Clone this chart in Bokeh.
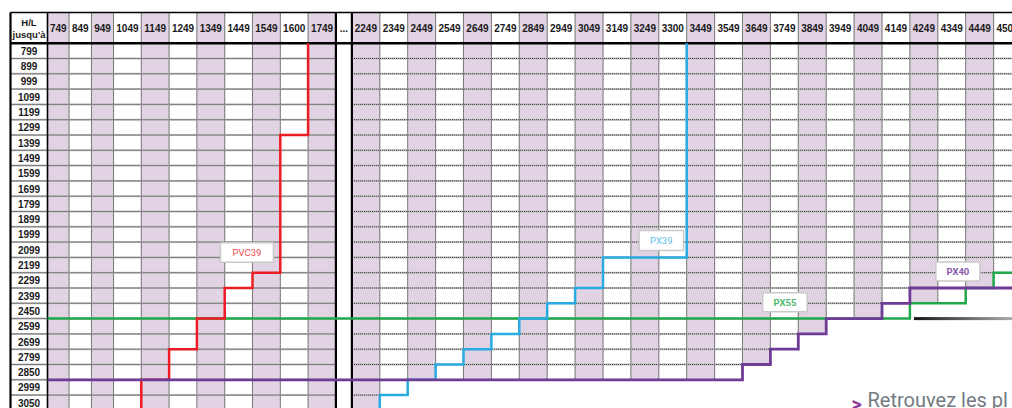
import numpy as np
from bokeh.plotting import figure
from bokeh.models import Range1d
from bokeh.core.properties import value
from bokeh.embed import file_html
from bokeh.resources import INLINE

# ---------------------------------------------------------------- data
widths_left = ["749", "849", "949", "1049", "1149", "1249", "1349", "1449", "1549", "1600", "1749"]
widths_gap = ["..."]
widths_right = ["2249", "2349", "2449", "2549", "2649", "2749", "2849", "2949", "3049", "3149",
                "3249", "3300", "3449", "3549", "3649", "3749", "3849", "3949", "4049", "4149",
                "4249", "4349", "4449", "4500"]
heights = ["799", "899", "999", "1099", "1199", "1299", "1399", "1499", "1599", "1699", "1799",
           "1899", "1999", "2099", "2199", "2299", "2399", "2450", "2599", "2699", "2799", "2850",
           "2999", "3050"]

# max height ("jusqu'à") per width for each profile; None = beyond the last row shown
pvc39_widths = ["1049", "1149", "1249", "1349", "1449", "1549", "1600"]
pvc39_max = [None, "2850", "2699", "2450", "2299", "2199", "1299"]

px39_widths = ["2249", "2349", "2449", "2549", "2649", "2749", "2849", "2949", "3049", "3149",
               "3249", "3300"]
px39_max = [None, "2999", "2850", "2799", "2699", "2599", "2450", "2399", "2299", "2099",
            "2099", "2099"]

px55_widths = ["749", "849", "949", "1049", "1149", "1249", "1349", "1449", "1549", "1600", "1749",
               "...",
               "2249", "2349", "2449", "2549", "2649", "2749", "2849", "2949", "3049", "3149",
               "3249", "3300", "3449", "3549", "3649", "3749", "3849", "3949", "4049", "4149",
               "4249", "4349", "4449", "4500"]
px55_max = ["2450", "2450", "2450", "2450", "2450", "2450", "2450", "2450", "2450", "2450", "2450",
            "2450",
            "2450", "2450", "2450", "2450", "2450", "2450", "2450", "2450", "2450", "2450",
            "2450", "2450", "2450", "2450", "2450", "2450", "2450", "2450", "2450", "2450",
            "2399", "2399", "2299", "2199"]

px40_widths = list(px55_widths)
px40_max = ["2850", "2850", "2850", "2850", "2850", "2850", "2850", "2850", "2850", "2850", "2850",
            "2850",
            "2850", "2850", "2850", "2850", "2850", "2850", "2850", "2850", "2850", "2850",
            "2850", "2850", "2850", "2850", "2799", "2699", "2599", "2450", "2450", "2399",
            "2299", "2299", "2299", "2299"]

# ---------------------------------------------------------------- layout / style
FIG_W, FIG_H = 1012, 408
PAGE_OFF = 0
TABLE_X0 = 10.0
LABEL_COL_W = 37.0
SPECIAL_W = {"749": 21.5, "849": 22.5, "949": 22.0, "...": 16.0}
LEFT_W, RIGHT_W = 27.8, 27.9
HEADER_BOTTOM_PX = 42.7
ROW_PX = 15.3
CUT_FROM = "2349"          # right block is cut below the PX40/PX55 outline from this width on

SHADE = "#e2d3e4"
RED, BLUE, GREEN, PURPLE = "#ed1c24", "#29abe2", "#22a84c", "#6e3b96"
TXT = "#1a1a1a"

cols = widths_left + widths_gap + widths_right
edges = [TABLE_X0 + LABEL_COL_W]
for c in cols:
    w = SPECIAL_W.get(c, LEFT_W if c in widths_left else RIGHT_W)
    edges.append(edges[-1] + w)
left = {c: edges[i] for i, c in enumerate(cols)}
right = {c: edges[i + 1] for i, c in enumerate(cols)}
center = {c: (left[c] + right[c]) / 2 for c in cols}

BEYOND = len(heights) + 3


def k_of(h):
    return BEYOND if h is None else heights.index(h) + 1


px40_map = dict(zip(px40_widths, px40_max))
px55_map = dict(zip(px55_widths, px55_max))
cut_idx = widths_right.index(CUT_FROM)
mask_k = {}
for c in cols:
    if c in widths_right and widths_right.index(c) >= cut_idx:
        mask_k[c] = max(k_of(px40_map[c]), k_of(px55_map[c]))
    else:
        mask_k[c] = BEYOND

y_top = (PAGE_OFF - HEADER_BOTTOM_PX) / ROW_PX
y_bot = (PAGE_OFF + FIG_H - HEADER_BOTTOM_PX) / ROW_PX

p = figure(width=FIG_W, height=FIG_H, output_backend="svg", toolbar_location=None,
           x_range=Range1d(PAGE_OFF, PAGE_OFF + FIG_W), y_range=Range1d(y_bot, y_top),
           x_axis_location=None, y_axis_location=None, min_border=0)
p.grid.grid_line_color = None
p.outline_line_color = None
p.background_fill_color = "white"
p.border_fill_color = "white"

# ---- shaded columns
ql, qr, qt, qb = [], [], [], []
for block in (widths_left, widths_right):
    for i, c in enumerate(block):
        if i % 2 == 0:
            ql.append(left[c]); qr.append(right[c]); qt.append(-2.0); qb.append(float(mask_k[c]))
p.quad(left=ql, right=qr, top=qt, bottom=qb, fill_color=SHADE, line_color=None)

# ---- horizontal row separators
hx0, hx1, hy = [], [], []
for k in range(1, len(heights) + 1):
    run_s, run_e = TABLE_X0, left[cols[0]]
    for c in cols:
        vis = (c != "...") and k < mask_k[c]
        if vis:
            if run_s is None:
                run_s = left[c]
            run_e = right[c]
        else:
            if run_s is not None:
                hx0.append(run_s); hx1.append(run_e); hy.append(k)
                run_s = None
    if run_s is not None:
        hx0.append(run_s); hx1.append(run_e); hy.append(k)
p.segment(x0=hx0, y0=hy, x1=hx1, y1=hy, line_color="#c2c2c2", line_width=2)
p.segment(x0=hx0, y0=hy, x1=hx1, y1=hy, line_color="#333333", line_width=1, line_dash="1 1")

# ---- vertical column separators
vx, vy0, vy1 = [], [], []
for block in (widths_left, widths_right):
    for a, b in zip(block[:-1], block[1:]):
        vx.append(right[a]); vy0.append(-2.0); vy1.append(float(max(mask_k[a], mask_k[b])))
p.segment(x0=vx, y0=vy0, x1=vx, y1=vy1, line_color="#cfcfcf", line_width=1.2)
p.segment(x0=vx, y0=vy0, x1=vx, y1=vy1, line_color="#2a2a2a", line_width=1, line_dash="1 1")

# ---- heavy borders
far_right = right[cols[-1]] + 20
p.segment(x0=[TABLE_X0, TABLE_X0], y0=[-2.0, 0.0], x1=[far_right, far_right], y1=[-2.0, 0.0],
          line_color="black", line_width=[1.5, 2.4])
bx = [TABLE_X0, left[cols[0]], left["..."], right["..."]]
p.segment(x0=bx, y0=[-2.0] * 4, x1=bx, y1=[float(BEYOND)] * 4, line_color="black",
          line_width=[2.2, 1.6, 2.2, 2.2])


# ---- profile outlines
def step_path(ws, hs, close_top):
    xs, ys = [], []
    for w, h in zip(ws, hs):
        k = k_of(h)
        xs += [left[w], right[w]]
        ys += [k, k]
    if close_top:
        xs.append(right[ws[-1]]); ys.append(0)
    return xs, ys


gx, gy = step_path(px55_widths, px55_max, False)
p.line(gx, gy, line_color=GREEN, line_width=2.5, line_join="miter")
rx, ry = step_path(pvc39_widths, pvc39_max, True)
p.line(rx, ry, line_color=RED, line_width=2.5, line_join="miter")
bxs, bys = step_path(px39_widths, px39_max, True)
p.line(bxs, bys, line_color=BLUE, line_width=2.5, line_join="miter")
px, py = step_path(px40_widths, px40_max, False)
p.line(px, py, line_color=PURPLE, line_width=2.8, line_join="miter")

# ---- header & row labels
p.text(x=[center[c] for c in cols], y=[-1.0] * len(cols), text=cols,
       text_font=value("Liberation Sans"), text_font_size="10px", text_font_style="bold",
       text_color=TXT, text_align="center", text_baseline="middle")
lab_x = TABLE_X0 + LABEL_COL_W / 2
p.text(x=[lab_x, lab_x], y=[-1.33, -0.6], text=["H/L", "jusqu'à"],
       text_font=value("Liberation Sans"), text_font_size="9.5px", text_font_style="bold",
       text_color=TXT, text_align="center", text_baseline="middle")
p.text(x=[lab_x] * len(heights), y=[i + 0.5 for i in range(len(heights))], text=heights,
       text_font=value("Liberation Sans"), text_font_size="10px", text_font_style="bold",
       text_color=TXT, text_align="center", text_baseline="middle")

# ---- profile name tags (anchored to a width column / height row)
tags = [
    ("PVC39", "1449", "2099", 0.80, 0.68, 53, 19.5, "#ef4b4f", "normal"),
    ("PX39", "3300", "1999", 0.09, 0.90, 44.5, 20, "#5cbde9", "normal"),
    ("PX55", "3749", "2399", 0.52, 0.93, 44.5, 19, "#4dbb6c", "bold"),
    ("PX40", "4349", "2199", 0.72, 0.92, 44, 19, "#8757ad", "bold"),
]
for name, w, h, fx, fy, bw, bh, col, wt in tags:
    x = left[w] + fx * (right[w] - left[w])
    y = heights.index(h) + fy
    p.rect(x=[x], y=[y], width=bw, height=bh, width_units="screen", height_units="screen",
           fill_color="white", line_color="#c9c9c9", line_width=1.5)
    p.text(x=[x], y=[y], text=[name], text_font=value("Roboto"), text_font_size="9.5px",
           text_font_style=wt, text_color=col, text_align="center", text_baseline="middle")

# ---- decorative gradient rule and footer link
g_x0 = right["4149"] + 4
g_x1 = right[cols[-1]]
n = 40
gxs = np.linspace(g_x0, g_x1, n + 1)
shades = np.linspace(25, 185, n).astype(int)
p.segment(x0=gxs[:-1], y0=[float(k_of("2450"))] * n, x1=gxs[1:] + 0.8,
          y1=[float(k_of("2450"))] * n,
          line_color=["#%02x%02x%02x" % (v, v, v) for v in shades], line_width=3)
foot_y = 22.55
p.text(x=[851], y=[foot_y + 0.25], text=[">"], text_font=value("Roboto"), text_font_size="20px",
       text_font_style="bold", text_color="#8b3d98", text_align="left", text_baseline="top")
p.text(x=[867], y=[foot_y], text=["Retrouvez les pl"], text_font=value("Roboto"),
       text_font_size="20px", text_color="#737a80", text_align="left", text_baseline="top")

open("out.html", "w").write(file_html(p, INLINE))
